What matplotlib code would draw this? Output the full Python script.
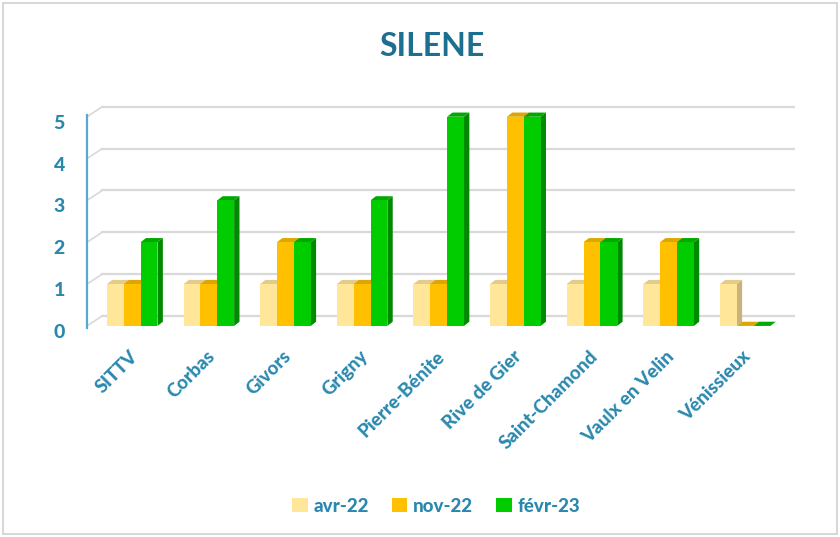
import matplotlib
matplotlib.use("Agg")
import matplotlib.pyplot as plt
import matplotlib.transforms as mtransforms
from matplotlib.patches import Polygon, Rectangle

# data
sites = ["SITTV", "Corbas", "Givors", "Grigny", "Pierre-Bénite",
         "Rive de Gier", "Saint-Chamond", "Vaulx en Velin", "Vénissieux"]
avr22 = [1, 1, 1, 1, 1, 1, 1, 1, 1]
nov22 = [1, 1, 2, 1, 1, 5, 2, 2, 0]
fevr23 = [2, 3, 2, 3, 5, 5, 2, 2, 0]
series_names = ["avr-22", "nov-22", "févr-23"]

front = ["#FFE699", "#FFC000", "#00CC00"]
side = ["#C9B37A", "#C99700", "#008A00"]
topc = ["#E3CB8A", "#DDA600", "#00A800"]
txt = "#2A88AE"

plt.rcParams['font.family'] = ['Lato', 'DejaVu Sans']

fig = plt.figure(figsize=(8.4, 5.37), dpi=100)
W, H = 840, 537
ax = fig.add_axes([87 / W, 1 - 328 / H, (795 - 87) / W, (328 - 100) / H])
xmin, xmax = -0.59, 8.65
ymin, ymax = -0.05, 5.4
ax.set_xlim(xmin, xmax)
ax.set_ylim(ymin, ymax)

# back wall gridlines with small perspective offset
gdx, gdy = 0.2, 0.24
for v in range(6):
    ax.plot([xmin, xmin + gdx], [v, v + gdy], color="#D9D9D9", lw=1.2, zorder=1)
    ax.plot([xmin + gdx, xmax], [v + gdy, v + gdy], color="#D9D9D9", lw=1.6, zorder=1)

# bars with fake 3d depth
bw = 0.22
dx, dy = 0.07, 0.1
data = [avr22, nov22, fevr23]
for j in [2, 1, 0]:
    vals = data[j]
    for i, v in enumerate(vals):
        x0 = i + (j - 1) * bw - bw / 2
        x1 = x0 + bw
        ax.add_patch(Polygon([[x1, 0], [x1 + dx, dy], [x1 + dx, v + dy], [x1, v]],
                             closed=True, fc=side[j], ec="none", zorder=3 + j))
        ax.add_patch(Polygon([[x0, v], [x0 + dx, v + dy], [x1 + dx, v + dy], [x1, v]],
                             closed=True, fc=topc[j], ec="none", zorder=3 + j))
for j in range(3):
    ax.bar([i + (j - 1) * bw for i in range(len(data[j]))], data[j], width=bw,
           color=front[j], zorder=10, linewidth=0)

for s in ["top", "right", "bottom"]:
    ax.spines[s].set_visible(False)
ax.spines["left"].set_color("#5AAAD0")
ax.spines["left"].set_linewidth(1.6)
ax.spines["left"].set_bounds(ymin, 5.05)

ax.set_yticks(range(6))
ax.set_yticklabels([str(v) for v in range(6)], fontsize=14, fontweight="black", color=txt)
ax.tick_params(axis="y", length=0, pad=16)
shift = mtransforms.ScaledTranslation(0, -5 / 100, fig.dpi_scale_trans)
for lab in ax.get_yticklabels():
    lab.set_transform(lab.get_transform() + shift)

ax.set_xticks([i - 0.04 for i in range(len(sites))])
ax.set_xticklabels(sites, rotation=45, ha="right", rotation_mode="anchor",
                   fontsize=13.5, fontweight="black", color=txt)
ax.tick_params(axis="x", length=0, pad=14)

fig.text(432 / W, 1 - 47 / H, "SILENE", ha="center", va="center",
         fontsize=23, fontweight="bold", color="#1D6F90")

# legend
handles = [Rectangle((0, 0), 1, 1, fc=c, ec="none") for c in front]
fig.legend(handles, series_names, loc="center", bbox_to_anchor=(436 / W, 1 - 506 / H),
           ncol=3, frameon=False, handlelength=0.85, handleheight=0.85,
           handletextpad=0.3, columnspacing=1.2,
           prop={"size": 13.5, "weight": "black"}, labelcolor=txt)

fig.add_artist(Rectangle((0.004, 0.006), 0.992, 0.988, transform=fig.transFigure,
                         fill=False, ec="#CFCFCF", lw=1.2))

fig.savefig("out.png", dpi=100)
